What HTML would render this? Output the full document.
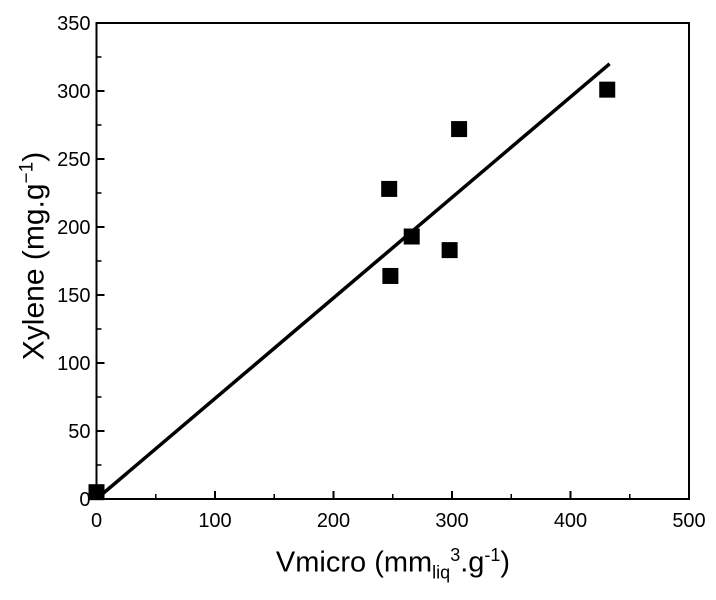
<!DOCTYPE html>
<html><head><style>
body{margin:0;background:#fff;}
svg text{font-family:"Liberation Sans",Arial,sans-serif;fill:#000;}
</style></head><body>
<svg id="chart" width="716" height="595"></svg>
<script>
const xTicks=[0,100,200,300,400,500];
const yTicks=[0,50,100,150,200,250,300,350];
const xVals=[0,247,248,266,298,306,431];
const yVals=[5,228,164,193,183,272,301];
const fitX=[0,433];
const fitY=[0,320];
const L=96.5,R=689,T=23,B=499;
const sx=v=>L+(v-0)/500*(R-L);
const sy=v=>B-(v-0)/350*(B-T);
const svg=document.getElementById('chart');
const NS='http://www.w3.org/2000/svg';
function mk(tag,attrs,parent){const e=document.createElementNS(NS,tag);for(const k in attrs)e.setAttribute(k,attrs[k]);(parent||svg).appendChild(e);return e;}
let e;
e=mk('rect',{x:L,y:T,width:R-L,height:B-T,fill:'none',stroke:'#000','stroke-width':2});


for(let i=0;i<xTicks.length;i++){const v=xTicks[i];const x=sx(v);
 e=mk('line',{x1:x,y1:B,x2:x,y2:B-8,stroke:'#000','stroke-width':2});
 
 
 if(i<xTicks.length-1){const xm=sx(v+50);e=mk('line',{x1:xm,y1:B,x2:xm,y2:B-5,stroke:'#000','stroke-width':1.5});
 
 }
 e=mk('text',{x:x,y:B+28,'text-anchor':'middle','font-size':20});e.textContent=v;
 
 
}
for(let i=0;i<yTicks.length;i++){const v=yTicks[i];const y=sy(v);
 e=mk('line',{x1:L,y1:y,x2:L+8,y2:y,stroke:'#000','stroke-width':2});
 
 
 if(i<yTicks.length-1){const ym=sy(v+25);e=mk('line',{x1:L,y1:ym,x2:L+5,y2:ym,stroke:'#000','stroke-width':1.5});
 
 }
 e=mk('text',{x:L-6,y:y+7,'text-anchor':'end','font-size':20});e.textContent=v;
 
 
}
e=mk('line',{x1:sx(fitX[0]),y1:sy(fitY[0]),x2:sx(fitX[1]),y2:sy(fitY[1]),stroke:'#000','stroke-width':3.5});


for(let i=0;i<xVals.length;i++){
 e=mk('rect',{x:sx(xVals[i])-8,y:sy(yVals[i])-8,width:16,height:16,fill:'#000'});
 
 
}
</script>
<div style="position:absolute;left:0;width:786px;top:545px;text-align:center;font:29px 'Liberation Sans',Arial,sans-serif;">Vmicro (mm<sub style="font-size:18px">liq</sub><sup style="font-size:18px">3</sup>.g<sup style="font-size:18px">-1</sup>)</div>
<div style="position:absolute;left:34px;top:256px;transform:translate(-50%,-50%) rotate(-90deg);white-space:nowrap;font:30px 'Liberation Sans',Arial,sans-serif;">Xylene (mg.g<sup style="font-size:19px">−1</sup>)</div>
</body></html>
